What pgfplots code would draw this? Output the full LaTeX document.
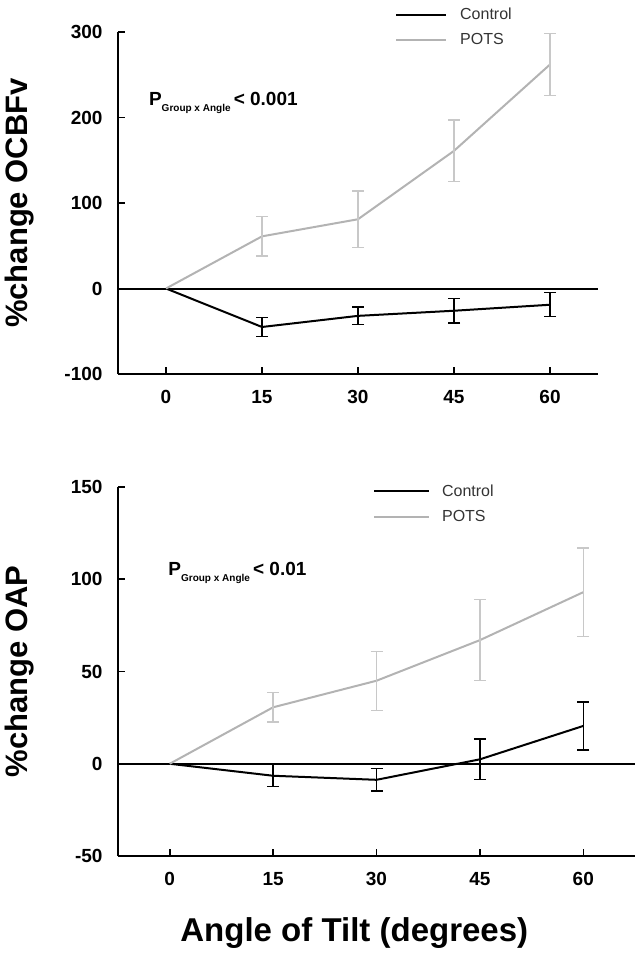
\documentclass[border=0pt]{standalone}
\usepackage{fontspec}
\setmainfont{Liberation Sans}
\usepackage{pgfplots}
\pgfplotsset{compat=1.18}
\definecolor{potsline}{HTML}{B3B3B3}
\definecolor{potserr}{HTML}{C8C8C8}

\pgfplotsset{
  tiltax/.style={
    scale only axis,
    axis x line=bottom, axis y line=left,
    axis line style={-, line width=2pt, black},
    xmin=-7.5, xmax=67.5,
    xtick={0,15,30,45,60},
    tick align=inside,
    major tick length=7pt,
    tick style={line width=1.6pt, black},
    ticklabel style={font=\fontsize{19}{19}\selectfont\bfseries},
    yticklabel style={xshift=-12pt},
    xticklabel style={yshift=-13pt},
    /pgf/number format/assume math mode=true,
    ylabel style={font=\fontsize{31}{31}\selectfont\bfseries, anchor=center, rotate=0},
    xlabel style={font=\fontsize{33}{33}\selectfont\bfseries, anchor=center},
    legend style={draw=none, fill=none, inner sep=0pt, anchor=north west,
      font=\fontsize{16}{16}\selectfont, text=black!80,
      nodes={inner sep=0pt}},
    legend cell align=left,
    clip=false,
  },
  ctrl/.style={black, line width=2pt, mark=none,
    error bars/.cd, y dir=both, y explicit,
    error bar style={black, line width=1.3pt},
    error mark options={rotate=90, black, mark size=6pt, line width=1.3pt}},
  pots/.style={potsline, line width=2pt, mark=none,
    error bars/.cd, y dir=both, y explicit,
    error bar style={potserr, line width=1.3pt},
    error mark options={rotate=90, potserr, mark size=6pt, line width=1.3pt}},
}

\begin{document}
\begin{tikzpicture}
\path[use as bounding box] (0,0) rectangle (637pt,-956pt);

% top panel: OCBFv
\begin{axis}[tiltax,
  at={(118pt,-374pt)}, anchor=south west,
  width=480pt, height=342pt,
  ymin=-100, ymax=300, ytick={-100,0,100,200,300},
  ylabel={\%change OCBFv},
  ylabel style={at={([xshift=-98pt]axis description cs:0,0.5)}},
  legend style={at={(axis description cs:0.577,1.07)}, row sep=12pt, column sep=13pt},
  legend image code/.code={\draw[#1] (0pt,0pt) -- (50pt,0pt);},
]
\addplot[black, line width=2pt, forget plot] coordinates {(-7.5,0) (67.5,0)};
\addplot[ctrl] coordinates {(0,0) (15,-45) +- (0,11) (30,-32) +- (0,10.5) (45,-26) +- (0,14.5) (60,-19) +- (0,14)};
\addplot[pots] coordinates {(0,0) (15,61) +- (0,23) (30,81) +- (0,33) (45,161) +- (0,36) (60,262) +- (0,36)};
\legend{Control, POTS}
\node[anchor=base west, font=\fontsize{19}{19}\selectfont\bfseries] at (axis cs:-3.2,214)
  {P\raisebox{-6pt}{\fontsize{10}{10}\selectfont Group x Angle}\,< 0.001};
\end{axis}

% bottom panel: OAP
\begin{axis}[tiltax,
  at={(118pt,-856pt)}, anchor=south west,
  width=517pt, height=369pt,
  ymin=-50, ymax=150, ytick={-50,0,50,100,150},
  ylabel={\%change OAP},
  ylabel style={at={([xshift=-98pt]axis description cs:0,0.5)}},
  xlabel={Angle of Tilt (degrees)},
  xlabel style={at={([yshift=-77pt]axis description cs:0.457,0)}},
  legend style={at={(axis description cs:0.493,1.007)}, row sep=13pt, column sep=12pt},
  legend image code/.code={\draw[#1] (0pt,0pt) -- (55pt,0pt);},
]
\addplot[black, line width=2pt, forget plot] coordinates {(-7.5,0) (67.5,0)};
\addplot[ctrl] coordinates {(0,0) (15,-6.5) +- (0,6) (30,-8.7) +- (0,6) (45,2.4) +- (0,11) (60,20.5) +- (0,13)};
\addplot[pots] coordinates {(0,0) (15,30.6) +- (0,8) (30,45) +- (0,16) (45,67) +- (0,22) (60,93) +- (0,24)};
\legend{Control, POTS}
\node[anchor=base west, font=\fontsize{19}{19}\selectfont\bfseries] at (axis cs:-0.7,102)
  {P\raisebox{-6pt}{\fontsize{10}{10}\selectfont Group x Angle}\,< 0.01};
\end{axis}
\end{tikzpicture}
\end{document}
